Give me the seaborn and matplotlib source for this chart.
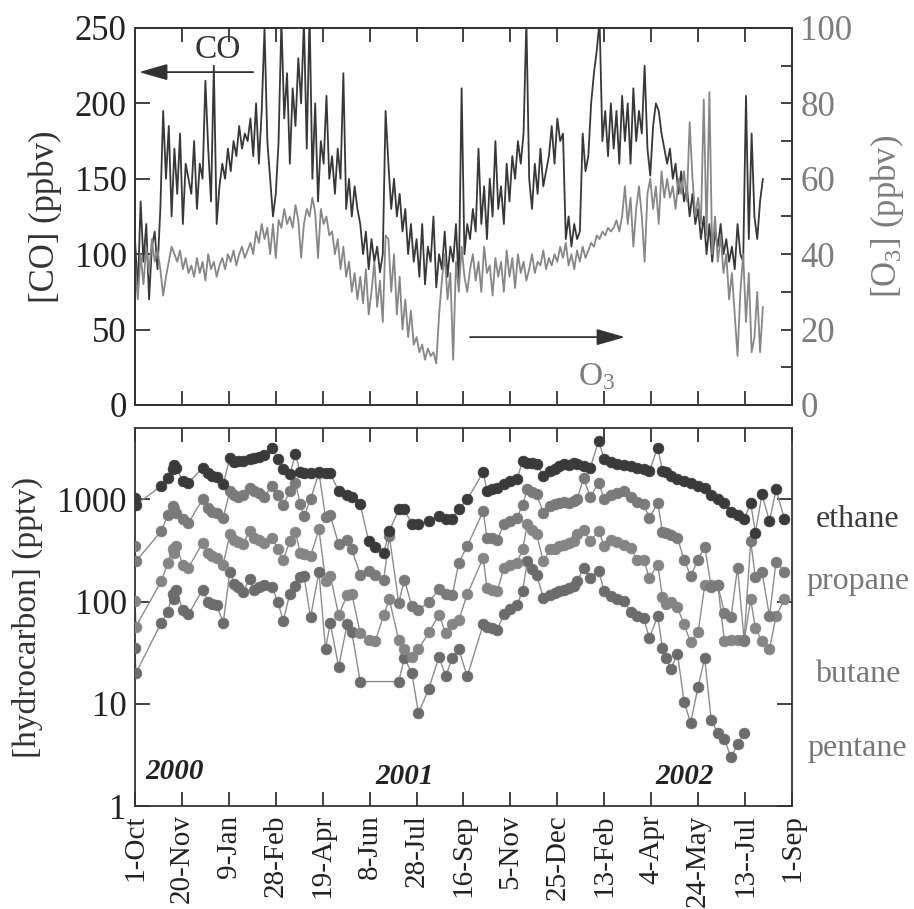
import numpy as np
import pandas as pd
import matplotlib
matplotlib.use('Agg')
import matplotlib.pyplot as plt
import seaborn as sns
from matplotlib.ticker import MultipleLocator, FixedLocator, NullLocator

# style
sns.set_style('white')
plt.rcParams['font.family'] = ['Liberation Serif', 'DejaVu Serif']
plt.rcParams['mathtext.fontset'] = 'custom'
plt.rcParams['mathtext.rm'] = 'Liberation Serif'
plt.rcParams['mathtext.it'] = 'Liberation Serif:italic'

# ---------------------------------------------------------
# data
# ---------------------------------------------------------
START = pd.Timestamp('2000-10-01')
END = pd.Timestamp('2002-09-01')
STEP_DAYS = 3   # CO / O3 sampled every 3 days from 1-Oct-2000

co_ppbv = [
    110, 75, 135, 95, 120, 70, 105, 115, 90, 130,
    195, 150, 185, 125, 170, 140, 180, 120, 160, 150,
    140, 175, 130, 160, 150, 215, 170, 135, 225, 120,
    145, 160, 150, 170, 155, 175, 165, 185, 170, 180,
    175, 190, 165, 200, 160, 195, 250, 175, 150, 125,
    140, 175, 255, 190, 220, 160, 210, 185, 230, 200,
    255, 170, 260, 150, 200, 135, 175, 160, 205, 150,
    165, 140, 170, 150, 220, 130, 150, 125, 145, 130,
    120, 100, 115, 90, 110, 95, 105, 88, 100, 195,
    160, 130, 150, 125, 140, 115, 130, 100, 120, 95,
    110, 85, 120, 80, 105, 95, 125, 78, 100, 90,
    115, 85, 105, 95, 120, 80, 210, 100, 120, 110,
    130, 115, 170, 120, 145, 110, 150, 125, 175, 130,
    145, 120, 160, 135, 165, 150, 175, 160, 180, 255,
    150, 130, 160, 140, 170, 145, 155, 165, 185, 160,
    190, 175, 180, 110, 125, 105, 120, 110, 115, 180,
    155, 165, 200, 220, 235, 255, 175, 195, 165, 200,
    170, 195, 160, 205, 175, 200, 160, 210, 175, 195,
    180, 225, 170, 152, 185, 200, 195, 180, 170, 160,
    170, 150, 160, 140, 155, 135, 145, 125, 140, 120,
    130, 110, 125, 100, 120, 95, 115, 105, 120, 100,
    110, 95, 105, 90, 120, 100, 95, 205, 110, 180,
    125, 110, 135, 150,
]

o3_ppbv = [
    38, 28, 40, 32, 42, 35, 44, 38, 41, 36,
    29, 34, 38, 42, 40, 38, 41, 36, 39, 35,
    37, 34, 39, 35, 38, 33, 40, 36, 38, 34,
    37, 39, 36, 40, 38, 41, 37, 40, 42, 39,
    41, 43, 40, 46, 43, 48, 44, 47, 40, 48,
    39, 49, 47, 52, 48, 50, 47, 53, 49, 39,
    48, 52, 50, 55, 51, 39, 52, 48, 50, 45,
    46, 40, 44, 36, 42, 34, 38, 30, 35, 28,
    34, 27, 36, 24, 30, 38, 26, 33, 22, 45,
    44, 30, 40, 24, 34, 20, 28, 18, 25, 16,
    18, 14, 16, 12, 15, 13, 14, 11, 24, 33,
    40, 28, 35, 12, 38, 30, 42, 34, 30, 36,
    40, 33, 38, 30, 42, 35, 37, 29, 39, 34,
    38, 30, 41, 34, 39, 31, 40, 35, 38, 33,
    36, 40, 35, 38, 37, 41, 36, 39, 37, 40,
    38, 42, 39, 43, 37, 40, 36, 41, 38, 42,
    39, 41, 43, 42, 45, 44, 46, 45, 47, 46,
    47, 49, 46, 50, 58, 48, 55, 42, 52, 58,
    50, 38, 56, 60, 52, 58, 48, 62, 55, 60,
    55, 58, 52, 60, 56, 62, 54, 75, 60, 50,
    55, 48, 81, 45, 83, 40, 50, 38, 45, 35,
    40, 28, 35, 24, 13, 30, 40, 22, 35, 14,
    18, 30, 14, 26,
]

# hydrocarbon canister samples: day offset from 1-Oct-2000
hc_day = [
    0, 1, 28, 35, 40, 42, 44, 51, 57, 72,
    78, 82, 87, 94, 101, 106, 110, 115, 122, 127,
    132, 137, 146, 152, 158, 165, 171, 176, 180, 187,
    196, 203, 208, 217, 226, 231, 240, 249, 256, 265,
    271, 281, 287, 295, 302, 313, 324, 331, 338, 345,
    354, 371, 375, 380, 386, 393, 400, 407, 413, 418,
    423, 428, 435, 442, 447, 452, 457, 462, 468, 471,
    478, 485, 494, 500, 507, 514, 521, 528, 535, 542,
    548, 557, 562, 566, 571, 578, 585, 592, 600, 607,
    614, 621, 628, 635, 642, 649, 656, 661, 668, 676,
    683, 692,
]

ethane = [
    1040, 890, 1350, 1630, 2000, 2150, 2050, 1510, 1450, 2040,
    1800, 1700, 1650, 1400, 2560, 2300, 2350, 2400, 2500, 2550,
    2600, 2700, 3200, 2470, 1970, 1760, 2760, 1850, 1800, 1800,
    1850, 1800, 1800, 1210, 1100, 1050, 895, 390, 340, 300,
    490, 800, 800, 569, 569, 620, 686, 650, 640, 800,
    1000, 1850, 1210, 1250, 1300, 1400, 1500, 1570, 2375, 2290,
    2250, 2200, 1700, 1900, 2000, 2100, 2200, 2150, 2250, 2200,
    2100, 2040, 3730, 2470, 2300, 2200, 2150, 2100, 2050, 2000,
    1900, 3210, 1900, 1850, 1700, 1600, 1500, 1450, 1350, 1300,
    1100, 1000, 930, 760, 700, 640, 925, 470, 1120, 612,
    1250, 640,
]

propane = [
    349, 248, 490, 700, 860, 800, 740, 640, 590, 1000,
    830, 760, 740, 660, 1210, 1100, 1050, 1100, 1300, 1200,
    1150, 1050, 1350, 1100, 890, 1200, 1450, 900, 686, 1000,
    1820, 670, 700, 365, 400, 324, 184, 200, 184, 164,
    437, 97, 164, 90, 83, 100, 132, 120, 115, 240,
    350, 768, 420, 420, 405, 569, 612, 660, 890, 1250,
    1180, 1120, 740, 860, 900, 920, 940, 930, 960, 1000,
    1630, 1050, 1450, 1000, 1100, 1150, 1200, 1050, 950, 900,
    660, 925, 480, 470, 450, 420, 258, 177, 258, 345,
    140, 145, 78, 70, 215, 42, 390, 173, 197, 72,
    245, 197,
]

butane = [
    101, 57, 158, 240, 330, 300, 349, 230, 215, 376,
    300, 280, 270, 230, 454, 405, 380, 362, 490, 420,
    400, 376, 420, 330, 258, 390, 480, 300, 290, 278,
    508, 160, 180, 74, 115, 120, 49, 42, 41, 74,
    105, 42, 34, 29, 34, 50, 74, 49, 60, 66,
    118, 268, 136, 130, 126, 214, 230, 240, 324, 569,
    500, 454, 248, 324, 330, 350, 360, 375, 390, 454,
    500, 390, 490, 349, 405, 380, 360, 336, 258, 258,
    171, 230, 110, 94, 100, 88, 60, 40, 50, 145,
    145, 145, 41, 42, 42, 41, 105, 55, 41, 34,
    72, 105,
]

pentane = [
    35, 20, 62, 80, 120, 105, 130, 82, 75, 131,
    100, 95, 93, 62, 193, 150, 140, 125, 165, 130,
    138, 145, 140, 100, 65, 120, 141, 175, 180, 70,
    195, 34, 62, 23, 60, 50, 16.5, np.nan, np.nan, np.nan,
    np.nan, 16.5, 28, 20, 8.1, 14, 29, 18.5, 28, 34,
    18.5, 60, 57, 55, 53, 75, 85, 93, 126, 248,
    210, 184, 109, 117, 122, 126, 130, 135, 141, 158,
    214, 171, 198, 126, 113, 105, 101, 80, 72, 69,
    44, 72, 35, 28, 22, 31, 10.5, 6.5, 14.7, 28,
    6.9, 5.2, 4.5, 3.0, 4.0, 5.2, np.nan, np.nan, np.nan, np.nan,
    np.nan, np.nan,
]

tick_labels = ['1-Oct', '20-Nov', '9-Jan', '28-Feb', '19-Apr', '8-Jun', '28-Jul',
               '16-Sep', '5-Nov', '25-Dec', '13-Feb', '4-Apr', '24-May',
               '13--Jul', '1-Sep']

# ---------------------------------------------------------
# frames
# ---------------------------------------------------------
gas = pd.DataFrame({
    'date': pd.date_range(START, periods=len(co_ppbv), freq=f'{STEP_DAYS}D'),
    'CO': co_ppbv,
    'O3': o3_ppbv,
})
hc = pd.DataFrame({
    'date': START + pd.to_timedelta(hc_day, unit='D'),
    'ethane': ethane, 'propane': propane, 'butane': butane, 'pentane': pentane,
})
tick_dates = pd.date_range(START, END, freq='50D')

DARK = '#333333'
GRAY = '#7c7c7c'

fig = plt.figure(figsize=(9.14, 9.09), dpi=100)
ax1 = fig.add_axes([0.1477, 0.5545, 0.7188, 0.4147])
ax3 = fig.add_axes([0.1477, 0.1133, 0.7188, 0.4159])

# ---------------------------------------------------------
# top panel: CO and O3
# ---------------------------------------------------------
sns.lineplot(data=gas, x='date', y='CO', ax=ax1, color='#383838', lw=1.3)
ax2 = ax1.twinx()
sns.lineplot(data=gas, x='date', y='O3', ax=ax2, color='#878787', lw=1.3)

ax1.set_xlim(START, END)
ax1.set_ylim(0, 250)
ax2.set_ylim(0, 100)
ax1.xaxis.set_major_locator(FixedLocator(matplotlib.dates.date2num(tick_dates)))
ax1.tick_params(axis='x', direction='in', top=True, bottom=True, length=10,
                width=1.3, color=DARK, labelbottom=False)
ax1.yaxis.set_major_locator(MultipleLocator(50))
ax1.tick_params(axis='y', direction='in', length=11, width=1.3, color=DARK,
                labelsize=25, labelcolor='#222222', pad=6)
ax2.yaxis.set_major_locator(MultipleLocator(20))
ax2.yaxis.set_minor_locator(MultipleLocator(10))
ax2.tick_params(axis='y', which='both', direction='in', length=8, width=1.3,
                color=DARK, labelsize=25, labelcolor=GRAY, pad=6)
ax1.set_xlabel('')
ax1.set_ylabel('[CO] (ppbv)', fontsize=25, color=DARK, labelpad=9)
ax2.set_ylabel('[O$_3$] (ppbv)', fontsize=25, color=GRAY, labelpad=11)

ax1.text(0.126, 0.942, 'CO', transform=ax1.transAxes, ha='center', va='center',
         fontsize=24, color=DARK)
ax1.annotate('', xy=(0.006, 0.883), xytext=(0.18, 0.883), xycoords='axes fraction',
             arrowprops=dict(arrowstyle='-|>,head_length=0.7,head_width=0.2',
                             mutation_scale=25, color=DARK, lw=1.3,
                             shrinkA=0, shrinkB=0))
ax2.text(0.703, 0.075, 'O$_3$', transform=ax2.transAxes, ha='center', va='center',
         fontsize=24, color=GRAY)
ax2.annotate('', xy=(0.746, 0.18), xytext=(0.51, 0.18), xycoords='axes fraction',
             arrowprops=dict(arrowstyle='-|>,head_length=0.7,head_width=0.2',
                             mutation_scale=25, color=DARK, lw=1.3,
                             shrinkA=0, shrinkB=0))

# ---------------------------------------------------------
# bottom panel: hydrocarbons (log)
# ---------------------------------------------------------
series_style = {
    'pentane': ('#6c6c6c', 0.153),
    'butane': ('#858585', 0.347),
    'propane': ('#7a7a7a', 0.593),
    'ethane': ('#3a3a3a', 0.757),
}
for name, (col, ylab) in series_style.items():
    sub = hc[['date', name]].dropna()
    sns.lineplot(data=sub, x='date', y=name, ax=ax3, color='#8c8c8c', lw=1.0)
    sns.scatterplot(data=sub, x='date', y=name, ax=ax3, color=col, s=60,
                    edgecolor=col, linewidth=0.5, zorder=3)
    ax3.text(1.10, ylab, name, transform=ax3.transAxes, ha='center', va='center',
             fontsize=23, color=col if name == 'ethane' else '#777777')

ax3.set_yscale('log')
ax3.set_ylim(1, 5000)
ax3.set_xlim(START, END)
ax3.yaxis.set_major_locator(FixedLocator([1, 10, 100, 1000]))
ax3.yaxis.set_minor_locator(NullLocator())
ax3.set_yticklabels(['1', '10', '100', '1000'])
ax3.xaxis.set_major_locator(FixedLocator(matplotlib.dates.date2num(tick_dates)))
ax3.set_xticklabels(tick_labels, rotation=90)
ax3.tick_params(axis='x', direction='in', top=True, bottom=True, length=10,
                width=1.3, color=DARK, labelsize=21, labelcolor='#222222', pad=6)
ax3.tick_params(axis='y', direction='in', left=True, right=True, length=11,
                width=1.3, color=DARK, labelsize=25, labelcolor='#222222', pad=6)
ax3.set_xlabel('')
ax3.set_ylabel('[hydrocarbon] (pptv)', fontsize=24, color=DARK, labelpad=10)

for txt, xf, yf in [('2000', 0.061, 0.09), ('2001', 0.411, 0.077), ('2002', 0.837, 0.077)]:
    ax3.text(xf, yf, txt, transform=ax3.transAxes, ha='center', va='center',
             fontsize=21, fontweight='bold', style='italic', color='#222222')

for a in (ax1, ax2, ax3):
    for sp in a.spines.values():
        sp.set_color(DARK)
        sp.set_linewidth(1.3)
    if a.get_legend() is not None:
        a.get_legend().remove()

fig.savefig('out.png', dpi=100)
plt.close(fig)
